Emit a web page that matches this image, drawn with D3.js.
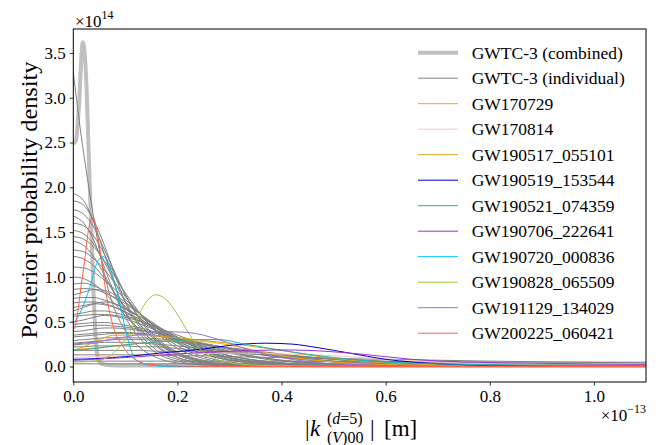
<!DOCTYPE html>
<html>
<head>
<meta charset="utf-8">
<script src="https://cdn.jsdelivr.net/npm/d3@7"></script>
<style>
body { margin: 0; background: #fff; }
svg text { font-family: "Liberation Serif", "DejaVu Serif", serif; fill: #000; }
</style>
</head>
<body>
<svg id="chart" width="658" height="445"></svg>
<script>
// values: x in units of 1e-13 m, density in units of 1e14
var xTicks = [0, 0.2, 0.4, 0.6, 0.8, 1.0]
var yTicks = [0, 0.5, 1.0, 1.5, 2.0, 2.5, 3.0, 3.5]

var combinedX = [0, 0.005, 0.009, 0.012, 0.015, 0.018, 0.022, 0.026, 0.029, 0.032, 0.035, 0.039, 0.042, 0.045, 0.048, 0.055, 0.07, 0.1, 1.1]
var combinedY = [2.49, 2.52, 2.75, 3.03, 3.4, 3.62, 3.48, 3.03, 2.48, 1.95, 1.5, 0.8, 0.41, 0.18, 0.08, 0.03, 0.015, 0.01, 0.005]

// narrow individual event starting high
var narrowX = [0, 0.013, 0.032, 0.05, 0.07, 0.1, 0.13, 0.16, 0.2, 0.3, 1.1]
var narrowY = [3.28, 2.67, 1.92, 1.3, 0.8, 0.4, 0.2, 0.1, 0.04, 0.01, 0]

// shared grid for the other grey (individual) events
var xGrid = [0, 0.02, 0.04, 0.06, 0.08, 0.1, 0.13, 0.16, 0.2, 0.25, 0.3, 0.4, 0.5, 0.6, 0.8, 1.1]
var individualY = [
  [1.93,1.85,1.6,1.25,0.9,0.62,0.35,0.18,0.08,0.03,0.01,0,0,0,0,0],
  [1.85,1.8,1.62,1.35,1.02,0.72,0.42,0.24,0.1,0.04,0.015,0,0,0,0,0],
  [1.75,1.7,1.55,1.3,1.05,0.8,0.5,0.3,0.14,0.06,0.02,0.005,0,0,0,0],
  [1.68,1.6,1.4,1.1,0.8,0.55,0.3,0.15,0.06,0.02,0.01,0,0,0,0,0],
  [1.6,1.57,1.45,1.25,1.02,0.8,0.52,0.32,0.16,0.07,0.03,0.01,0,0,0,0],
  [1.52,1.48,1.36,1.16,0.94,0.72,0.46,0.28,0.13,0.05,0.02,0,0,0,0,0],
  [1.45,1.42,1.33,1.18,1.0,0.82,0.58,0.38,0.2,0.09,0.04,0.01,0,0,0,0],
  [1.4,1.35,1.22,1.02,0.8,0.6,0.38,0.22,0.1,0.04,0.015,0,0,0,0,0],
  [1.3,1.28,1.2,1.08,0.93,0.78,0.57,0.4,0.23,0.11,0.05,0.01,0,0,0,0],
  [1.23,1.2,1.12,0.98,0.82,0.66,0.45,0.29,0.15,0.06,0.02,0.005,0,0,0,0],
  [1.11,1.1,1.05,0.96,0.86,0.75,0.58,0.43,0.27,0.14,0.07,0.02,0.005,0,0,0],
  [1.0,0.98,0.92,0.82,0.7,0.57,0.4,0.26,0.13,0.05,0.02,0,0,0,0,0],
  [0.92,0.93,0.9,0.84,0.76,0.67,0.53,0.4,0.26,0.14,0.07,0.02,0,0,0,0],
  [0.86,0.87,0.86,0.82,0.77,0.7,0.58,0.46,0.32,0.19,0.1,0.03,0.01,0,0,0],
  [0.8,0.83,0.86,0.85,0.8,0.72,0.58,0.44,0.29,0.16,0.08,0.02,0.005,0,0,0],
  [0.76,0.77,0.77,0.74,0.7,0.64,0.55,0.45,0.33,0.21,0.12,0.04,0.01,0,0,0],
  [0.71,0.72,0.72,0.7,0.66,0.6,0.5,0.4,0.28,0.17,0.09,0.03,0.01,0,0,0],
  [0.66,0.68,0.7,0.69,0.66,0.61,0.52,0.43,0.31,0.19,0.1,0.03,0,0,0,0],
  [0.62,0.66,0.7,0.72,0.7,0.65,0.55,0.44,0.31,0.18,0.1,0.03,0.01,0,0,0],
  [0.58,0.6,0.62,0.62,0.6,0.57,0.5,0.42,0.31,0.2,0.12,0.04,0.01,0,0,0],
  [0.56,0.57,0.58,0.58,0.57,0.55,0.5,0.44,0.35,0.25,0.17,0.07,0.03,0.01,0,0],
  [0.5,0.52,0.55,0.57,0.56,0.53,0.47,0.4,0.3,0.2,0.12,0.04,0.01,0,0,0],
  [0.47,0.48,0.49,0.49,0.48,0.46,0.43,0.38,0.31,0.22,0.15,0.06,0.02,0.01,0,0],
  [0.44,0.45,0.46,0.46,0.45,0.44,0.41,0.37,0.31,0.23,0.16,0.07,0.03,0.01,0,0],
  [0.39,0.4,0.42,0.43,0.43,0.42,0.4,0.37,0.32,0.25,0.19,0.1,0.05,0.02,0.005,0],
  [0.35,0.36,0.37,0.38,0.38,0.38,0.37,0.35,0.31,0.26,0.2,0.11,0.05,0.02,0.005,0],
  [0.33,0.34,0.35,0.36,0.37,0.37,0.36,0.34,0.3,0.25,0.2,0.12,0.06,0.03,0.01,0],
  [0.29,0.3,0.31,0.32,0.32,0.32,0.32,0.31,0.29,0.25,0.21,0.14,0.08,0.04,0.01,0],
  [0.26,0.27,0.28,0.29,0.3,0.3,0.3,0.29,0.27,0.24,0.2,0.13,0.08,0.04,0.01,0],
  [0.24,0.25,0.26,0.27,0.27,0.27,0.26,0.25,0.23,0.2,0.17,0.11,0.06,0.03,0.01,0],
  [0.22,0.22,0.23,0.23,0.23,0.23,0.22,0.22,0.2,0.18,0.16,0.12,0.08,0.05,0.02,0.005],
  [0.18,0.18,0.18,0.18,0.18,0.18,0.18,0.17,0.17,0.16,0.15,0.12,0.09,0.06,0.03,0.01],
  [0.13,0.13,0.13,0.13,0.13,0.13,0.13,0.13,0.12,0.12,0.11,0.1,0.09,0.08,0.06,0.04],
  [0.06,0.06,0.06,0.06,0.06,0.06,0.06,0.06,0.06,0.06,0.06,0.06,0.055,0.055,0.05,0.048],
  [0.03,0.03,0.03,0.03,0.03,0.03,0.03,0.03,0.03,0.03,0.03,0.03,0.03,0.025,0.02,0.015]
]

// highlighted events
var gw170729X = [0, 0.05, 0.1, 0.15, 0.2, 0.25, 0.3, 0.35, 0.4, 0.45, 0.5, 0.6, 0.7, 0.8, 1.1]
var gw170729Y = [0.19, 0.21, 0.24, 0.27, 0.29, 0.28, 0.24, 0.18, 0.12, 0.08, 0.05, 0.02, 0.01, 0.005, 0]
var gw170814X = [0, 0.1, 0.2, 0.3, 0.4, 0.5, 0.6, 0.7, 0.8, 1.1]
var gw170814Y = [0.1, 0.12, 0.14, 0.15, 0.14, 0.12, 0.08, 0.05, 0.03, 0.01]
var gw190517X = [0, 0.02, 0.05, 0.08, 0.12, 0.16, 0.2, 0.25, 0.3, 0.35, 0.4, 0.45, 0.5, 0.6, 0.7, 0.8, 1.1]
var gw190517Y = [0.18, 0.22, 0.3, 0.35, 0.35, 0.34, 0.32, 0.29, 0.26, 0.22, 0.18, 0.13, 0.09, 0.04, 0.02, 0.01, 0]
var gw190519X = [0, 0.05, 0.1, 0.166, 0.243, 0.306, 0.37, 0.42, 0.47, 0.53, 0.6, 0.65, 0.72, 0.8, 1.1]
var gw190519Y = [0.08, 0.09, 0.11, 0.15, 0.19, 0.24, 0.26, 0.25, 0.21, 0.15, 0.08, 0.05, 0.025, 0.01, 0.003]
var gw190521X = [0, 0.04, 0.08, 0.15, 0.2, 0.24, 0.28, 0.33, 0.4, 0.5, 0.6, 0.8, 1.1]
var gw190521Y = [0.18, 0.2, 0.23, 0.27, 0.29, 0.3, 0.3, 0.25, 0.18, 0.1, 0.05, 0.02, 0.01]
var gw190706X = [0, 0.1, 0.2, 0.3, 0.4, 0.45, 0.55, 0.65, 0.75, 0.9, 1.1]
var gw190706Y = [0.07, 0.1, 0.14, 0.17, 0.185, 0.18, 0.14, 0.08, 0.05, 0.035, 0.025]
var gw190720X = [0, 0.013, 0.032, 0.045, 0.057, 0.07, 0.083, 0.096, 0.105, 0.121, 0.15, 0.2, 1.1]
var gw190720Y = [0.48, 0.6, 0.89, 1.15, 1.23, 1.11, 0.85, 0.52, 0.3, 0.07, 0.01, 0, 0]
var gw190828X = [0, 0.03, 0.051, 0.077, 0.1, 0.121, 0.14, 0.158, 0.178, 0.198, 0.223, 0.242, 0.267, 0.306, 0.35, 0.5, 1.1]
var gw190828Y = [0.05, 0.055, 0.07, 0.15, 0.3, 0.52, 0.72, 0.8, 0.75, 0.6, 0.36, 0.2, 0.1, 0.04, 0.015, 0.003, 0]
var gw191129X = [0, 0.05, 0.1, 0.17, 0.22, 0.28, 0.33, 0.4, 0.5, 0.7, 1.1]
var gw191129Y = [0.25, 0.28, 0.33, 0.39, 0.38, 0.3, 0.2, 0.1, 0.03, 0.005, 0]
var gw200225X = [0, 0.005, 0.01, 0.015, 0.022, 0.029, 0.038, 0.045, 0.054, 0.064, 0.077, 0.096, 0.121, 0.15, 0.2, 0.3, 1.1]
var gw200225Y = [0.41, 0.48, 0.67, 0.9, 1.19, 1.52, 1.67, 1.52, 1.19, 0.78, 0.44, 0.22, 0.07, 0.02, 0.005, 0, 0]

var eventNames = ["GW170729", "GW170814", "GW190517_055101", "GW190519_153544", "GW190521_074359",
  "GW190706_222641", "GW190720_000836", "GW190828_065509", "GW191129_134029", "GW200225_060421"]
var eventX = [gw170729X, gw170814X, gw190517X, gw190519X, gw190521X, gw190706X, gw190720X, gw190828X, gw191129X, gw200225X]
var eventY = [gw170729Y, gw170814Y, gw190517Y, gw190519Y, gw190521Y, gw190706Y, gw190720Y, gw190828Y, gw191129Y, gw200225Y]
var eventColors = ["orange", "pink", "goldenrod", "mediumblue", "lightseagreen",
  "darkorchid", "deepskyblue", "yellowgreen", "mediumpurple", "tomato"]

var plot = {left: 73.3, right: 646, top: 29, bottom: 382}

var svg = d3.select("#chart")

var xScale = d3.scaleLinear().domain([0, 1.1]).range([plot.left, plot.right])
var yScale = d3.scaleLinear().domain([-0.173, 3.767]).range([plot.bottom, plot.top])

var toPoints = function(xs, ys) {
  return xs.map(function(x, i) { return [x, ys[i]] })
}

var line = d3.line()
  .x(function(d) { return xScale(d[0]) })
  .y(function(d) { return yScale(d[1]) })
  .curve(d3.curveMonotoneX)

svg.append("clipPath").attr("id", "clip")
  .append("rect")
  .attr("x", plot.left).attr("y", plot.top)
  .attr("width", plot.right - plot.left).attr("height", plot.bottom - plot.top)

var curves = svg.append("g").attr("clip-path", "url(#clip)").attr("fill", "none")

// combined posterior
curves.append("path")
  .datum(toPoints(combinedX, combinedY))
  .attr("d", line)
  .attr("stroke", "silver")
  .attr("stroke-width", 4)

// individual events
var greySets = [toPoints(narrowX, narrowY)].concat(individualY.map(function(ys) { return toPoints(xGrid, ys) }))
curves.selectAll(".indiv")
  .data(greySets)
  .enter()
  .append("path")
  .attr("class", "indiv")
  .attr("d", line)
  .attr("stroke", "grey")
  .attr("stroke-width", 1)

curves.selectAll(".event")
  .data(eventNames)
  .enter()
  .append("path")
  .attr("class", "event")
  .attr("d", function(name, i) { return line(toPoints(eventX[i], eventY[i])) })
  .attr("stroke", function(name, i) { return eventColors[i] })
  .attr("stroke-width", 1)

// axes
var xAxis = d3.axisBottom(xScale).tickValues(xTicks).tickFormat(d3.format(".1f")).tickSize(3.5).tickSizeOuter(0).tickPadding(4)
var yAxis = d3.axisLeft(yScale).tickValues(yTicks).tickFormat(d3.format(".1f")).tickSize(3.5).tickSizeOuter(0).tickPadding(4)

var gx = svg.append("g").attr("transform", "translate(0," + plot.bottom + ")").call(xAxis)
var gy = svg.append("g").attr("transform", "translate(" + plot.left + ",0)").call(yAxis)
gx.select(".domain").remove()
gy.select(".domain").remove()
svg.selectAll(".tick line").attr("stroke", "#000").attr("stroke-width", 0.8)
svg.selectAll(".tick text")
  .attr("font-family", "Liberation Serif")
  .attr("font-size", 17)
  .attr("fill", "#000")

svg.append("rect")
  .attr("x", plot.left).attr("y", plot.top)
  .attr("width", plot.right - plot.left).attr("height", plot.bottom - plot.top)
  .attr("fill", "none").attr("stroke", "#000").attr("stroke-width", 1)

// offset texts
var yOff = svg.append("text").attr("x", 75).attr("y", 26.5).attr("font-size", 17)
yOff.append("tspan").text("\u00d710")
yOff.append("tspan").attr("font-size", 12).attr("dy", -7.5).text("14")

var xOff = svg.append("text").attr("x", 646).attr("y", 420.5).attr("font-size", 17).attr("text-anchor", "end")
xOff.append("tspan").text("\u00d710")
xOff.append("tspan").attr("font-size", 12).attr("dy", -7.5).text("\u221213")

// axis labels
svg.append("text")
  .attr("transform", "translate(37,200) rotate(-90)")
  .attr("text-anchor", "middle")
  .attr("font-size", 23)
  .attr("textLength", 277)
  .attr("lengthAdjust", "spacingAndGlyphs")
  .text("Posterior probability density")

var xl = svg.append("g").attr("font-size", 23)
xl.append("text").attr("x", 305).attr("y", 436).text("|")
xl.append("text").attr("x", 310).attr("y", 436).attr("font-style", "italic").text("k")
var sup = xl.append("text").attr("x", 327).attr("y", 424).attr("font-size", 16)
sup.append("tspan").text("(")
sup.append("tspan").attr("font-style", "italic").text("d")
sup.append("tspan").text("=5)")
var sub = xl.append("text").attr("x", 327).attr("y", 443).attr("font-size", 16)
sub.append("tspan").text("(")
sub.append("tspan").attr("font-style", "italic").text("V")
sub.append("tspan").text(")00")
xl.append("text").attr("x", 370).attr("y", 436).text("|")
xl.append("text").attr("x", 384).attr("y", 436).text("[m]")

// legend
var legendNames = ["GWTC-3 (combined)", "GWTC-3 (individual)"].concat(eventNames)
var legendColors = ["silver", "grey"].concat(eventColors)
var legend = svg.append("g")
var rows = legend.selectAll("g")
  .data(legendNames)
  .enter()
  .append("g")
  .attr("transform", function(d, i) { return "translate(418," + (52.7 + i * 25.5) + ")" })
rows.append("line")
  .attr("x1", 0).attr("x2", 40)
  .attr("stroke", function(d, i) { return legendColors[i] })
  .attr("stroke-width", function(d, i) { return i == 0 ? 4 : 1 })
rows.append("text")
  .attr("x", 53.7)
  .attr("y", 5.8)
  .attr("font-size", 17.5)
  .text(function(d) { return d })
</script>
</body>
</html>
